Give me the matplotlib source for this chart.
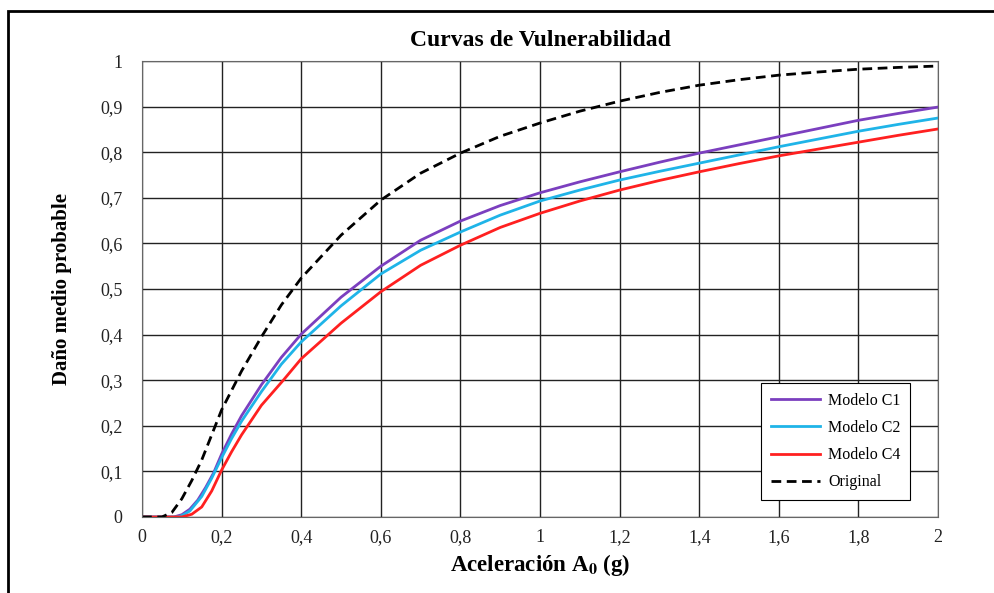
import numpy as np
import matplotlib.pyplot as plt
from matplotlib.patches import Rectangle
from matplotlib.ticker import FuncFormatter

plt.rcParams['font.family'] = ['Liberation Serif', 'DejaVu Serif']
plt.rcParams['mathtext.fontset'] = 'stix'

# valores
x_orig = [0, 0.05, 0.075, 0.1, 0.125, 0.15, 0.175, 0.2, 0.25, 0.3, 0.35, 0.4, 0.5, 0.6, 0.7,
          0.8, 0.9, 1.0, 1.1, 1.2, 1.3, 1.4, 1.5, 1.6, 1.7, 1.8, 1.9, 2.0]
y_orig = [0, 0.0, 0.01, 0.04, 0.08, 0.125, 0.18, 0.235, 0.32, 0.395, 0.465, 0.524, 0.618, 0.695, 0.754,
          0.798, 0.835, 0.864, 0.89, 0.912, 0.931, 0.947, 0.959, 0.969, 0.976, 0.982, 0.986, 0.989]

x_c1 = [0, 0.08, 0.1, 0.12, 0.14, 0.16, 0.18, 0.2, 0.225, 0.25, 0.3, 0.35, 0.4, 0.5, 0.6, 0.7,
        0.8, 0.9, 1.0, 1.1, 1.2, 1.3, 1.4, 1.5, 1.6, 1.7, 1.8, 1.9, 2.0]
y_c1 = [0, 0.0, 0.005, 0.017, 0.037, 0.065, 0.097, 0.138, 0.182, 0.222, 0.29, 0.35, 0.401, 0.482, 0.55,
        0.607, 0.649, 0.683, 0.711, 0.735, 0.757, 0.778, 0.798, 0.816, 0.834, 0.852, 0.870, 0.885, 0.899]

x_c2 = [0, 0.09, 0.1, 0.12, 0.15, 0.175, 0.2, 0.225, 0.25, 0.3, 0.35, 0.4, 0.5, 0.6, 0.7,
        0.8, 0.9, 1.0, 1.1, 1.2, 1.3, 1.4, 1.5, 1.6, 1.7, 1.8, 1.9, 2.0]
y_c2 = [0, 0.0, 0.003, 0.013, 0.045, 0.085, 0.13, 0.172, 0.21, 0.275, 0.335, 0.384, 0.463, 0.533, 0.585,
        0.625, 0.662, 0.693, 0.717, 0.739, 0.758, 0.776, 0.794, 0.812, 0.829, 0.846, 0.861, 0.875]

x_c4 = [0, 0.1, 0.125, 0.15, 0.175, 0.2, 0.225, 0.25, 0.3, 0.355, 0.4, 0.5, 0.6, 0.7,
        0.8, 0.9, 1.0, 1.1, 1.2, 1.3, 1.4, 1.5, 1.6, 1.7, 1.8, 1.9, 2.0]
y_c4 = [0, 0.0, 0.006, 0.022, 0.057, 0.103, 0.143, 0.18, 0.245, 0.30, 0.347, 0.425, 0.494, 0.552,
        0.596, 0.635, 0.666, 0.693, 0.717, 0.738, 0.757, 0.775, 0.792, 0.807, 0.822, 0.837, 0.851]

x_ticks = np.arange(0, 2.01, 0.2)
y_ticks = np.arange(0, 1.01, 0.1)


def coma(v, pos):
    s = ('%.1f' % v).rstrip('0').rstrip('.')
    return s.replace('.', ',')


fig = plt.figure(figsize=(9.94, 5.93), dpi=100)
ax = fig.add_axes([0.1429, 0.1282, 0.8008, 0.7689])

ax.plot(x_c1, y_c1, color='#7b3fbf', lw=2, label='Modelo C1')
ax.plot(x_c2, y_c2, color='#1fb4e8', lw=2, label='Modelo C2')
ax.plot(x_c4, y_c4, color='#ff2020', lw=2, label='Modelo C4')
ax.plot(x_orig, y_orig, color='black', lw=2, ls=(0, (3.5, 2)), label='Original')

ax.set_xlim(0, 2)
ax.set_ylim(0, 1)
ax.set_xticks(x_ticks)
ax.set_yticks(y_ticks)
ax.xaxis.set_major_formatter(FuncFormatter(coma))
ax.yaxis.set_major_formatter(FuncFormatter(coma))
ax.tick_params(length=0, labelsize=13, colors='#222222')
ax.tick_params(axis='y', pad=14)
ax.tick_params(axis='x', pad=9)
ax.grid(True, color='#222222', lw=1)
for s in ax.spines.values():
    s.set_color('#666666')

ax.set_title('Curvas de Vulnerabilidad', fontsize=17, fontweight='bold', pad=11)
ax.set_xlabel(r'Aceleración A$_\mathbf{0}$ (g)', fontsize=16.5, fontweight='bold', labelpad=4)
ax.set_ylabel('Daño medio probable', fontsize=15, fontweight='bold', labelpad=20)

leg = ax.legend(loc='lower right', bbox_to_anchor=(0.975, 0.02), fontsize=11.5,
                fancybox=False, framealpha=1, edgecolor='black', handlelength=3.1,
                labelspacing=0.7, borderpad=0.6, handletextpad=0.5)
leg.get_frame().set_linewidth(0.8)

fig.patches.append(Rectangle((8 / 994, -0.1), 1.2, 1 - 11 / 593 + 0.1,
                             transform=fig.transFigure, fill=False, lw=2, color='black'))

fig.savefig('out.png', dpi=100)
